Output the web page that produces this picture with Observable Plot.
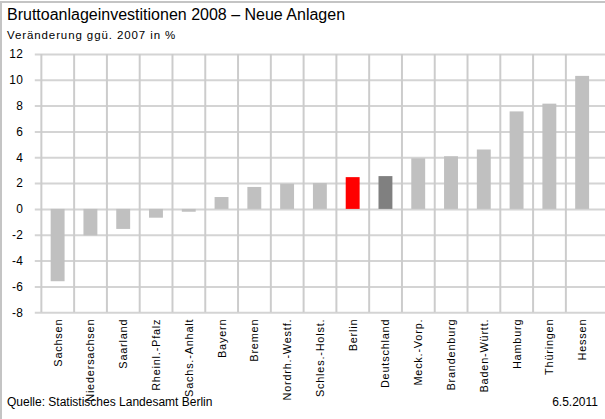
<!DOCTYPE html>
<html>
<head>
<meta charset="utf-8">
<script src="https://cdn.jsdelivr.net/npm/d3@7"></script>
<script src="https://cdn.jsdelivr.net/npm/@observablehq/plot@0.6"></script>
<style>
  html, body { margin: 0; padding: 0; background: #fff; overflow: hidden; }
  #wrap { position: relative; width: 605px; height: 419px; overflow: hidden; font-family: "Liberation Sans", Arial, sans-serif; color: #000; }
  #border { position: absolute; left: 0; top: 1px; width: 700px; height: 700px; border-left: 2px solid #c4c4c4; border-top: 2px solid #c4c4c4; box-sizing: border-box; }
  #title { position: absolute; left: 7px; top: 6px; font-size: 16px; white-space: nowrap; }
  #subtitle { position: absolute; left: 7px; top: 29px; font-size: 11.5px; letter-spacing: 0.9px; white-space: nowrap; }
  #chart { position: absolute; left: 0; top: 44px; }
  #source { position: absolute; left: 7px; top: 395px; font-size: 12px; white-space: nowrap; }
  #date { position: absolute; right: 7px; top: 395px; font-size: 12px; white-space: nowrap; }
  #chart g[aria-label="x-axis tick label"] text { letter-spacing: 0.8px; }
  #chart g[aria-label="y-axis tick label"] text { letter-spacing: 0.4px; }
</style>
</head>
<body>
<div id="wrap">
  <div id="border"></div>
  <div id="title">Bruttoanlageinvestitionen 2008 – Neue Anlagen</div>
  <div id="subtitle">Veränderung ggü. 2007 in %</div>
  <div id="chart"></div>
  <div id="source">Quelle: Statistisches Landesamt Berlin</div>
  <div id="date">6.5.2011</div>
</div>
<script>
const categories = ["Sachsen", "Niedersachsen", "Saarland", "Rheinl.-Pfalz", "Sachs.-Anhalt", "Bayern", "Bremen", "Nordrh.-Westf.", "Schles.-Holst.", "Berlin", "Deutschland", "Meck.-Vorp.", "Brandenburg", "Baden-Württ.", "Hamburg", "Thüringen", "Hessen"];
const values = [-5.6, -2.05, -1.55, -0.68, -0.22, 0.92, 1.7, 1.95, 2.0, 2.46, 2.54, 3.92, 4.08, 4.6, 7.55, 8.15, 10.3];
const yTicks = [-8, -6, -4, -2, 0, 2, 4, 6, 8, 10, 12];
const highlightRed = "Berlin";
const highlightDark = "Deutschland";

const data = categories.map((c, i) => ({category: c, value: values[i]}));

const W = 609, ML = 35;
const step = (W - ML) / categories.length;

const chart = Plot.plot({
  width: W,
  height: 360,
  marginLeft: ML,
  marginRight: 0,
  marginTop: 10,
  marginBottom: 90,
  style: {fontFamily: "'Liberation Sans', Arial, sans-serif", color: "#000", background: "transparent", overflow: "visible"},
  x: {domain: categories, paddingInner: 0.58, paddingOuter: 0.29, label: null},
  y: {domain: [-8, 12], ticks: yTicks, label: null},
  marks: [
    Plot.gridY(yTicks, {stroke: "#d4d4d4", strokeOpacity: 1, strokeWidth: 2}),
    Plot.ruleX(categories, {x: d => d, dx: -step / 2, stroke: "#cccccc", strokeOpacity: 1, strokeWidth: 2}),
    Plot.barY(data, {
      x: "category",
      y: "value",
      fill: d => d.category === highlightRed ? "#ff0000" : d.category === highlightDark ? "#808080" : "#c0c0c0"
    }),
    Plot.axisY(yTicks, {tickSize: 0, tickPadding: 12, fontSize: 12, tickFormat: d => String(d)}),
    Plot.axisX({tickRotate: -90, tickSize: 0, tickPadding: 6, fontSize: 11, label: null})
  ]
});
document.getElementById("chart").appendChild(chart);
</script>
</body>
</html>
